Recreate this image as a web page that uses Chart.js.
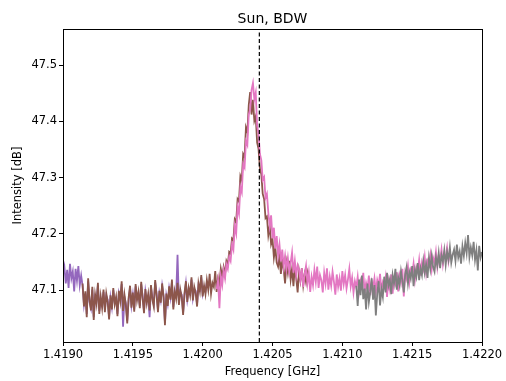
<!DOCTYPE html>
<html>
<head>
<meta charset="utf-8">
<title>Sun, BDW</title>
<script src="https://cdn.jsdelivr.net/npm/chart.js@4.4.1/dist/chart.umd.min.js"></script>
<style>
  html, body { margin: 0; padding: 0; background: #fff; }
  #spec { display: block; }
</style>
</head>
<body>
<canvas id="spec" width="506" height="381"></canvas>
<script>
// Spectrum segments, one per tuning window. Channels are spaced 0.00001 GHz apart.
const channelStep = 0.00001;
const restFreq = 1.4204058; // HI line, GHz

const purpleStart = 1.41900;
const purpleValues = [
    47.128, 47.141, 47.112, 47.136, 47.104, 47.147, 47.121, 47.133, 47.098, 47.138,
    47.117, 47.143, 47.109, 47.126, 47.108, 47.075, 47.094, 47.058, 47.116, 47.079,
    47.068, 47.101, 47.052, 47.088, 47.081, 47.109, 47.063, 47.085, 47.074, 47.097,
    47.066, 47.090, 47.083, 47.052, 47.087, 47.070, 47.100, 47.079, 47.084, 47.058,
    47.095, 47.085, 47.111, 47.035, 47.088, 47.077, 47.046, 47.083, 47.104, 47.073,
    47.092, 47.066, 47.107, 47.086, 47.093, 47.072, 47.111, 47.090, 47.063, 47.098,
    47.081, 47.089, 47.052, 47.105, 47.087, 47.075, 47.114, 47.095, 47.065, 47.095,
    47.082, 47.108, 47.091, 47.042, 47.090, 47.076, 47.103, 47.087, 47.115, 47.070,
    47.094, 47.089, 47.163, 47.078, 47.097, 47.092, 47.060, 47.091, 47.112, 47.083,
    47.100, 47.095, 47.119, 47.086, 47.102, 47.099, 47.075, 47.108, 47.102, 47.123,
    47.093, 47.104, 47.097, 47.114, 47.105
];

const brownStart = 1.41914;
const brownValues = [
    47.112, 47.071, 47.098, 47.052, 47.121, 47.083, 47.064, 47.106, 47.047, 47.092,
    47.076, 47.113, 47.058, 47.089, 47.069, 47.101, 47.061, 47.094, 47.079, 47.048,
    47.091, 47.066, 47.104, 47.075, 47.088, 47.054, 47.099, 47.081, 47.116, 47.063,
    47.092, 47.073, 47.041, 47.087, 47.108, 47.069, 47.096, 47.062, 47.111, 47.082,
    47.097, 47.068, 47.115, 47.086, 47.059, 47.102, 47.077, 47.093, 47.064, 47.109,
    47.083, 47.071, 47.118, 47.091, 47.061, 47.099, 47.078, 47.112, 47.087, 47.038,
    47.094, 47.072, 47.107, 47.083, 47.119, 47.066, 47.098, 47.085, 47.113, 47.074,
    47.101, 47.088, 47.056, 47.095, 47.116, 47.079, 47.104, 47.091, 47.123, 47.082,
    47.106, 47.095, 47.071, 47.112, 47.098, 47.127, 47.089, 47.108, 47.093, 47.118,
    47.101, 47.129, 47.094, 47.113, 47.106, 47.134, 47.097, 47.121, 47.112, 47.138,
    47.124, 47.141, 47.128, 47.152, 47.146, 47.168, 47.165, 47.192, 47.189, 47.226,
    47.221, 47.262, 47.258, 47.303, 47.296, 47.342, 47.337, 47.389, 47.381, 47.429,
    47.452, 47.412, 47.438, 47.401, 47.409, 47.362, 47.351, 47.316, 47.306, 47.271,
    47.262, 47.228, 47.231, 47.198, 47.214, 47.182, 47.191, 47.158, 47.176, 47.149,
    47.142, 47.161, 47.129, 47.154, 47.137, 47.112, 47.148, 47.131, 47.152, 47.119,
    47.138, 47.107, 47.142, 47.121, 47.096, 47.134, 47.117, 47.139, 47.109, 47.128,
    47.114, 47.132, 47.121
];

const pinkStart = 1.42010;
const pinkValues = [
    47.102, 47.118, 47.068, 47.124, 47.109, 47.135, 47.121, 47.146, 47.138, 47.159,
    47.152, 47.181, 47.172, 47.214, 47.201, 47.248, 47.236, 47.283, 47.274, 47.324,
    47.318, 47.365, 47.358, 47.412, 47.421, 47.456, 47.468, 47.439, 47.451, 47.392,
    47.378, 47.342, 47.331, 47.296, 47.301, 47.264, 47.271, 47.238, 47.214, 47.233,
    47.192, 47.211, 47.174, 47.196, 47.162, 47.181, 47.151, 47.172, 47.142, 47.161,
    47.138, 47.157, 47.133, 47.149, 47.167, 47.131, 47.152, 47.126, 47.144, 47.136,
    47.118, 47.139, 47.106, 47.128, 47.143, 47.112, 47.131, 47.097, 47.124, 47.109,
    47.136, 47.115, 47.142, 47.104, 47.127, 47.118, 47.096, 47.131, 47.112, 47.139,
    47.101, 47.124, 47.108, 47.133, 47.115, 47.092, 47.128, 47.106, 47.121, 47.099,
    47.134, 47.111, 47.127, 47.103, 47.119, 47.138, 47.107, 47.122, 47.096, 47.116,
    47.105, 47.124, 47.098, 47.117, 47.109, 47.131, 47.094, 47.113, 47.102, 47.126,
    47.091, 47.115, 47.104, 47.121, 47.097, 47.118, 47.108, 47.129, 47.099, 47.114,
    47.106, 47.123, 47.088, 47.117, 47.102, 47.128, 47.094, 47.119, 47.111, 47.132,
    47.098, 47.126, 47.114, 47.138, 47.089, 47.131, 47.121, 47.142, 47.115, 47.136,
    47.128, 47.147, 47.119, 47.141, 47.133, 47.154, 47.126, 47.149, 47.138, 47.159,
    47.131, 47.152, 47.145, 47.163, 47.137, 47.158, 47.149, 47.168, 47.141, 47.161,
    47.153, 47.172, 47.146, 47.164, 47.157, 47.175, 47.151, 47.166, 47.159
];

const grayStart = 1.42110;
const grayValues = [
    47.108, 47.072, 47.119, 47.091, 47.126, 47.084, 47.103, 47.066, 47.112, 47.079,
    47.097, 47.121, 47.083, 47.109, 47.055, 47.094, 47.116, 47.073, 47.102, 47.088,
    47.124, 47.096, 47.131, 47.108, 47.119, 47.093, 47.127, 47.112, 47.138, 47.101,
    47.123, 47.109, 47.134, 47.117, 47.096, 47.128, 47.141, 47.112, 47.132, 47.121,
    47.143, 47.107, 47.136, 47.124, 47.148, 47.118, 47.139, 47.127, 47.152, 47.131,
    47.146, 47.122, 47.157, 47.138, 47.161, 47.141, 47.133, 47.158, 47.144, 47.166,
    47.139, 47.162, 47.151, 47.171, 47.145, 47.168, 47.154, 47.176, 47.149, 47.163,
    47.172, 47.152, 47.181, 47.158, 47.169, 47.147, 47.178, 47.161, 47.184, 47.166,
    47.198, 47.159, 47.176, 47.162, 47.186, 47.154, 47.171, 47.135, 47.179, 47.158,
    47.168, 47.182, 47.155, 47.174, 47.163, 47.177, 47.161
];

const xTicks = [1.4190, 1.4195, 1.4200, 1.4205, 1.4210, 1.4215, 1.4220];
const yTicks = [47.1, 47.2, 47.3, 47.4, 47.5];
const xRange = [1.4190, 1.4220];
const yRange = [47.008, 47.564];

function toPoints(start, values) {
    return values.map((v, i) => ({ x: start + i * channelStep, y: v }));
}

// later windows are painted over earlier ones (higher order = drawn first)
function segment(start, values, color, order) {
    return {
        data: toPoints(start, values),
        borderColor: color,
        borderWidth: 1.8,
        pointRadius: 0,
        tension: 0,
        fill: false,
        order: order
    };
}

// Matplotlib-style frame round the axes plus the title on top
const framePlugin = {
    id: 'frame',
    afterDraw(chart) {
        const { ctx, chartArea: a } = chart;
        ctx.save();
        ctx.strokeStyle = '#000';
        ctx.lineWidth = 1;
        ctx.strokeRect(Math.round(a.left) + 0.5, Math.round(a.top) + 0.5,
            Math.round(a.right - a.left), Math.round(a.bottom - a.top));
        ctx.fillStyle = '#000';
        ctx.font = '14px "DejaVu Sans"';
        ctx.textAlign = 'center';
        ctx.textBaseline = 'alphabetic';
        ctx.fillText('Sun, BDW', (a.left + a.right) / 2, 23);
        ctx.restore();
    }
};

const tickFont = { family: 'DejaVu Sans', size: 11.5 };

new Chart(document.getElementById('spec').getContext('2d'), {
    type: 'line',
    data: {
        datasets: [
            segment(purpleStart, purpleValues, '#9467bd', 4),
            segment(brownStart, brownValues, '#8c564b', 3),
            segment(pinkStart, pinkValues, '#e377c2', 2),
            segment(grayStart, grayValues, '#7f7f7f', 1),
            {
                // rest frequency marker
                data: [{ x: restFreq, y: yRange[0] }, { x: restFreq, y: yRange[1] }],
                borderColor: '#000',
                borderWidth: 1.2,
                borderDash: [4, 2.5],
                pointRadius: 0,
                order: 0
            }
        ]
    },
    options: {
        responsive: false,
        animation: false,
        layout: { padding: { top: 29, right: 24, left: 0, bottom: 0 } },
        plugins: {
            legend: { display: false },
            tooltip: { enabled: false },
            title: { display: false }
        },
        scales: {
            x: {
                type: 'linear',
                min: xRange[0],
                max: xRange[1],
                afterBuildTicks: (s) => { s.ticks = xTicks.map(v => ({ value: v })); },
                afterFit: (s) => { s.height = 39; },
                grid: { drawOnChartArea: false, drawTicks: true, tickLength: 4, color: '#000' },
                border: { display: true, color: '#000', width: 1 },
                ticks: {
                    color: '#000',
                    font: tickFont,
                    padding: 2,
                    maxRotation: 0,
                    autoSkip: false,
                    callback: (v) => Number(v).toFixed(4)
                },
                title: {
                    display: true,
                    text: 'Frequency [GHz]',
                    color: '#000',
                    font: tickFont,
                    padding: { top: 0, bottom: 2 }
                }
            },
            y: {
                type: 'linear',
                min: yRange[0],
                max: yRange[1],
                afterBuildTicks: (s) => { s.ticks = yTicks.map(v => ({ value: v })); },
                afterFit: (s) => { s.width = 63; },
                grid: { drawOnChartArea: false, drawTicks: true, tickLength: 4, color: '#000' },
                border: { display: true, color: '#000', width: 1 },
                ticks: {
                    color: '#000',
                    font: tickFont,
                    padding: 2,
                    autoSkip: false,
                    callback: (v) => Number(v).toFixed(1)
                },
                title: {
                    display: true,
                    text: 'Intensity [dB]',
                    color: '#000',
                    font: tickFont,
                    padding: { top: 11, bottom: 0 }
                }
            }
        }
    },
    plugins: [framePlugin]
});
</script>
</body>
</html>
